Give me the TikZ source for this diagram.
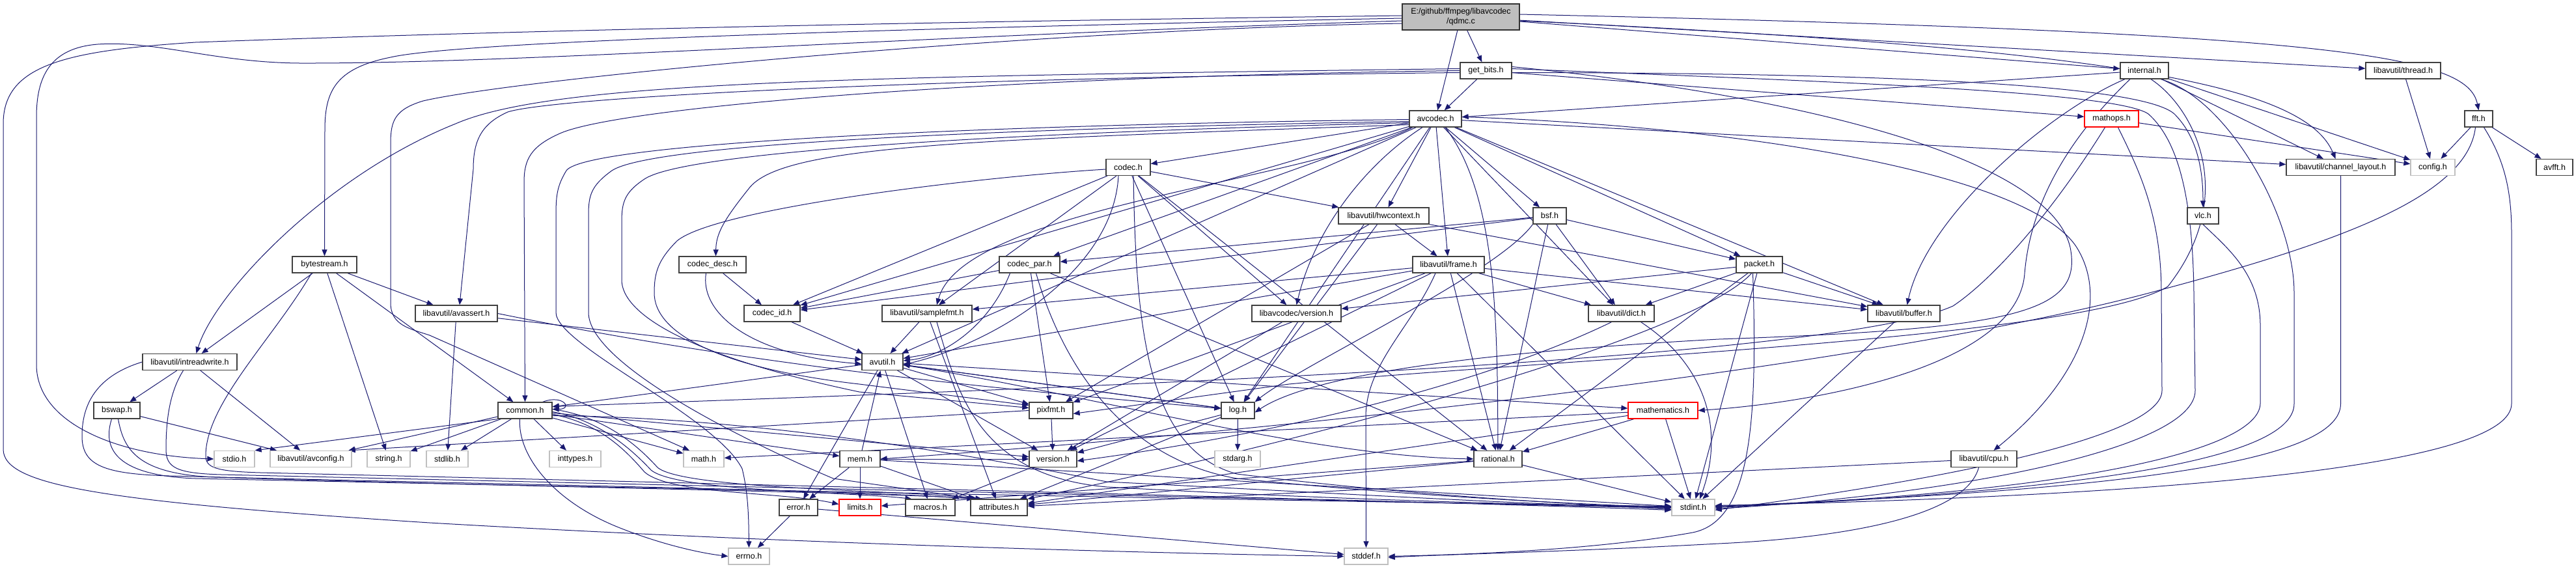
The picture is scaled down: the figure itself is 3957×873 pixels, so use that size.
\documentclass[tikz,border=0pt]{standalone}
\usepackage{fontspec}
\setmainfont{Liberation Sans}
\usetikzlibrary{arrows.meta}
\definecolor{edgec}{HTML}{191970}
\definecolor{nbord}{HTML}{404040}
\definecolor{gbord}{HTML}{BFBFBF}
\definecolor{qfill}{HTML}{BFBFBF}
\pgfdeclarelayer{bg}
\pgfdeclarelayer{edges}
\pgfsetlayers{bg,edges,main}
\newcommand\fs{\fontsize{12.5}{14.5}\selectfont}
\newcommand\nd[6]{\node[#5,minimum width=#4pt] (#1) at (#2,#3) {#6};}
\tikzset{
 nb/.style={draw=nbord, fill=white, line width=1.3pt, minimum height=25pt, inner sep=0pt, font=\fs},
 ng/.style={nb, draw=gbord},
 nr/.style={nb, draw=red},
 nq/.style={nb, draw=black!80, fill=qfill, minimum height=40pt, align=center},
 e/.style={draw=edgec, line width=1pt, -{Triangle[length=10pt,width=8pt]}},
}
\begin{document}
\begin{tikzpicture}[x=1pt,y=-1pt]
\begin{pgfonlayer}{bg}
\fill[white] (0,0) rectangle (3957,873);
\end{pgfonlayer}
\useasboundingbox (0,0) rectangle (3957,873);
% nodes
\nd{Q}{2244}{26}{180}{nq}{E:/github/ffmpeg/libavcodec\\/qdmc.c}
\nd{GET}{2282.5}{108.5}{79}{nb}{get\_bits.h}
\nd{INT}{3294}{108.5}{74}{nb}{internal.h}
\nd{THR}{3691.5}{108.5}{115}{nb}{libavutil/thread.h}
\nd{AVC}{2205}{182.5}{80}{nb}{avcodec.h}
\nd{MOP}{3243.5}{182.5}{83}{nr}{mathops.h}
\nd{FFT}{3807.5}{182.5}{43}{nb}{fft.h}
\nd{COD}{1733}{257}{68}{nb}{codec.h}
\nd{CHL}{3595.5}{257}{167}{nb}{libavutil/channel\_layout.h}
\nd{CFG}{3737}{257}{68}{ng}{config.h}
\nd{AFT}{3924}{257}{56}{nb}{avfft.h}
\nd{HW}{2125.5}{331.5}{139}{nb}{libavutil/hwcontext.h}
\nd{BSF}{2380.5}{331.5}{51}{nb}{bsf.h}
\nd{VLC}{3384}{331.5}{48}{nb}{vlc.h}
\nd{BST}{498.5}{406.5}{99}{nb}{bytestream.h}
\nd{CDS}{1094.5}{406.5}{103}{nb}{codec\_desc.h}
\nd{CPR}{1581.5}{406.5}{93}{nb}{codec\_par.h}
\nd{FRM}{2225}{406.5}{110}{nb}{libavutil/frame.h}
\nd{PKT}{2702.5}{406.5}{71}{nb}{packet.h}
\nd{AST}{701}{481.5}{126}{nb}{libavutil/avassert.h}
\nd{CID}{1186}{481.5}{86}{nb}{codec\_id.h}
\nd{SFM}{1424}{481.5}{138}{nb}{libavutil/samplefmt.h}
\nd{LCV}{1991.5}{481.5}{137}{nb}{libavcodec/version.h}
\nd{DCT}{2490.5}{481.5}{101}{nb}{libavutil/dict.h}
\nd{BUF}{2924.5}{481.5}{111}{nb}{libavutil/buffer.h}
\nd{IRW}{291.5}{556}{145}{nb}{libavutil/intreadwrite.h}
\nd{AVU}{1355.5}{556}{63}{nb}{avutil.h}
\nd{BSW}{179.5}{630.5}{71}{nb}{bswap.h}
\nd{CMN}{806.5}{630.5}{83}{nb}{common.h}
\nd{PIX}{1614.5}{630.5}{67}{nb}{pixfmt.h}
\nd{LOG}{1901.5}{630.5}{51}{nb}{log.h}
\nd{MTH}{2554.5}{630.5}{107}{nr}{mathematics.h}
\nd{STDIO}{360}{705}{62}{ng}{stdio.h}
\nd{AVCFG}{477.5}{705}{125}{ng}{libavutil/avconfig.h}
\nd{STR}{597}{705}{66}{ng}{string.h}
\nd{STDLIB}{687}{705}{64}{ng}{stdlib.h}
\nd{INTT}{883.5}{705}{79}{ng}{inttypes.h}
\nd{MATH}{1081}{705}{62}{ng}{math.h}
\nd{MEM}{1321}{705}{62}{nb}{mem.h}
\nd{VER}{1617.5}{705}{73}{nb}{version.h}
\nd{STDARG}{1901}{705}{70}{ng}{stdarg.h}
\nd{RAT}{2301}{705}{74}{nb}{rational.h}
\nd{CPU}{3047.5}{705}{101}{nb}{libavutil/cpu.h}
\nd{ERR}{1226.5}{779.5}{59}{nb}{error.h}
\nd{LIM}{1321}{779.5}{64}{nr}{limits.h}
\nd{MAC}{1429}{779.5}{76}{nb}{macros.h}
\nd{ATT}{1534.5}{779.5}{87}{nb}{attributes.h}
\nd{SINT}{2601}{779.5}{66}{ng}{stdint.h}
\nd{ERRNO}{1150.5}{854.5}{63}{ng}{errno.h}
\nd{SDEF}{2098.5}{854.5}{67}{ng}{stddef.h}
% edges
\begin{pgfonlayer}{edges}
% qdmc.c
\draw[e] (Q) -- (GET);
\draw[e] (Q) -- (AVC);
\draw[e] (Q) -- (INT);
\draw[e] (Q) -- (THR);
\draw[e] ([yshift=4pt]Q.east) .. controls (3600,50) and (3790,85) .. (FFT.north);
\draw[e] ([yshift=-6pt]Q.east) .. controls (3250,75) and (3540,130) .. ([xshift=-8pt]CHL.north);
\draw[e] ([yshift=-2pt]Q.west) .. controls (1300,45) and (700,65) .. (600,88) .. controls (515,105) and (499,140) .. (499,200) -- (BST.north);
\draw[e] ([yshift=-6pt]Q.west) .. controls (1400,55) and (800,98) .. (460,97) .. controls (330,96) and (240,62) .. (150,68) .. controls (75,74) and (56,120) .. (56,180) -- (56,560) .. controls (56,650) and (180,700) .. (STDIO.west);
\draw[e] ([yshift=2pt]Q.west) .. controls (1300,35) and (700,50) .. (300,65) .. controls (100,78) and (5,100) .. (5,190) -- (5,690) .. controls (5,745) and (150,770) .. (660,803) .. controls (1300,840) and (1900,852) .. (SDEF.west);
\draw[e] ([yshift=-10pt]Q.west) .. controls (1600,45) and (800,120) .. (650,155) .. controls (607,168) and (600,185) .. (600,220) -- (600,465) .. controls (600,500) and (630,505) .. (660,515) -- ([xshift=-22pt]MATH.north);
% get_bits.h
\draw[e] (GET) -- (AVC);
\draw[e] (GET.west) .. controls (1500,118) and (950,165) .. (860,205) .. controls (815,225) and (805,245) .. (805,280) -- (CMN.north);
\draw[e] ([yshift=-3pt]GET.west) .. controls (1400,120) and (850,150) .. (780,172) .. controls (740,190) and (727,215) .. (727,260) -- ([xshift=5pt]AST.north);
\draw[e] ([yshift=3pt]GET.west) .. controls (1300,118) and (850,125) .. (700,190) .. controls (500,270) and (330,450) .. ([xshift=10pt]IRW.north);
\draw[e] (GET) -- (MOP);
\draw[e] ([yshift=-3pt]GET.east) .. controls (2900,112) and (3290,130) .. (3340,175) .. controls (3375,210) and (3384,260) .. (VLC.north);
\draw[e] ([yshift=3pt]GET.east) .. controls (2800,125) and (3250,140) .. (3300,175) .. controls (3345,215) and (3368,300) .. (3370,450) -- (3372,600) .. controls (3372,690) and (3000,760) .. ([yshift=-2pt]SINT.east);
\draw[e] ([yshift=6pt]GET.east) .. controls (2800,150) and (3150,250) .. (3180,380) .. controls (3200,480) and (3100,505) .. (2640,521) .. controls (2200,545) and (2000,585) .. ([yshift=-3pt]LOG.east);
% internal.h
\draw[e] (INT) -- (AVC);
\draw[e] (INT) -- (CFG);
\draw[e] (INT) -- (CHL);
\draw[e] ([xshift=-30pt]INT.south) .. controls (3150,170) and (2960,330) .. ([xshift=5pt]BUF.north);
\draw[e] ([xshift=-22pt]INT.south) .. controls (3190,200) and (3120,300) .. (3110,420) .. controls (3100,560) and (2800,618) .. (MTH.east);
\draw[e] ([xshift=10pt]INT.south) .. controls (3370,165) and (3440,300) .. (3330,440) .. controls (3200,520) and (2400,550) .. (1980,590) -- ([yshift=-5pt]PIX.east);
\draw[e] ([xshift=25pt]INT.south) .. controls (3420,150) and (3524,330) .. (3524,450) -- (3524,620) .. controls (3524,700) and (3250,752) .. (SINT.east);
% thread, fft, mathops, vlc, channel_layout
\draw[e] (THR) -- (CFG);
\draw[e] (FFT) -- (CFG);
\draw[e] (FFT) -- (AFT);
\draw[e] ([xshift=-5pt]FFT.south) .. controls (3790,300) and (3600,370) .. (3320,445) .. controls (2900,560) and (2000,660) .. (MEM.east);
\draw[e] ([xshift=8pt]FFT.south) .. controls (3850,250) and (3858,300) .. (3858,360) -- (3858,620) .. controls (3858,710) and (3400,760) .. ([yshift=3pt]SINT.east);
\draw[e] (MOP) -- (CFG);
\draw[e] ([xshift=-10pt]MOP.south) .. controls (3150,330) and (3060,430) .. (3000,470) .. controls (2800,560) and (1500,600) .. ([yshift=6pt]CMN.east);
\draw[e] ([xshift=10pt]MOP.south) .. controls (3285,260) and (3320,330) .. (3320,450) -- (3321,600) .. controls (3321,670) and (3000,735) .. ([yshift=-4pt]SINT.east);
\draw[e] (VLC.south) .. controls (3420,380) and (3472,420) .. (3472,500) -- (3472,620) .. controls (3470,690) and (3200,756) .. ([yshift=1pt]SINT.east);
\draw[e] (CHL.south) -- (3595.5,620) .. controls (3595.5,705) and (3300,752) .. ([yshift=2pt]SINT.east);
% avcodec.h
\draw[e] (AVC) -- (COD);
\draw[e] (AVC) -- (HW);
\draw[e] (AVC) -- (FRM);
\draw[e] (AVC) -- (BSF);
\draw[e] (AVC) -- (PKT);
\draw[e] (AVC) -- (DCT);
\draw[e] (AVC) -- (BUF);
\draw[e] (AVC) -- (CHL);
\draw[e] (AVC) -- (CPR);
\draw[e] (AVC) -- (CID);
\draw[e] (AVC) -- (AVU);
\draw[e] (AVC) -- (LOG);
\draw[e] ([xshift=15pt]AVC.south) .. controls (2300,300) and (2300,500) .. (RAT.north);
\draw[e] ([xshift=-35pt]AVC.south) .. controls (2000,280) and (1480,320) .. ([xshift=15pt]SFM.north);
\draw[e] ([xshift=-20pt]AVC.south) .. controls (2100,250) and (2020,350) .. (LCV.north);
\draw[e] ([yshift=-9pt]AVC.west) .. controls (1500,215) and (1200,222) .. (1150,290) .. controls (1110,340) and (1100,360) .. ([xshift=5pt]CDS.north);
\draw[e] ([yshift=-1pt]AVC.west) .. controls (1500,192) and (900,220) .. (870,262) .. controls (856,285) and (854,300) .. (854,330) -- (854,480) .. controls (854,530) and (1100,640) .. (1140,720) .. controls (1150,760) and (1150,800) .. (ERRNO.north);
\draw[e] ([yshift=-4pt]AVC.west) .. controls (1500,198) and (1000,222) .. (940,262) .. controls (908,285) and (904,300) .. (904,330) -- (904,480) .. controls (904,560) and (1150,680) .. (1280,735) -- ([xshift=10pt]ATT.north west);
\draw[e] ([yshift=-6pt]AVC.west) .. controls (1500,205) and (1050,235) .. (990,275) .. controls (960,295) and (955,310) .. (955,340) -- (955,430) .. controls (955,480) and (1050,545) .. (1320,602) -- ([yshift=4pt]PIX.west);
\draw[e] ([yshift=3pt]AVC.east) .. controls (2700,195) and (3120,270) .. (3190,380) .. controls (3240,460) and (3200,580) .. ([xshift=15pt]CPU.north);
% codec.h
\draw[e] (COD) -- (HW);
\draw[e] (COD) -- (LOG);
\draw[e] (COD) -- (RAT);
\draw[e] (COD) -- (SFM);
\draw[e] (COD) -- (CID);
\draw[e] (COD) -- (LCV);
\draw[e] ([xshift=-15pt]COD.south) .. controls (1710,420) and (1520,530) .. ([yshift=-4pt]AVU.east);
\draw[e] ([yshift=-3pt]COD.west) .. controls (1500,272) and (1100,320) .. (1040,370) .. controls (1010,400) and (1005,420) .. (1005,450) .. controls (1005,510) and (1100,565) .. (1320,590) -- ([yshift=8pt]PIX.west);
\draw[e] ([xshift=8pt]COD.south) .. controls (1745,500) and (1760,690) .. (1900,728) .. controls (2200,765) and (2450,775) .. ([yshift=-3pt]SINT.west);
% codec_desc.h, codec_par.h, codec_id.h
\draw[e] ([xshift=-10pt]CDS.south) .. controls (1075,480) and (1150,545) .. ([yshift=-3pt]AVU.west);
\draw[e] (CDS) -- (CID);
\draw[e] ([xshift=-30pt]CPR.south) .. controls (1520,500) and (1450,548) .. ([yshift=2pt]AVU.east);
\draw[e] (CPR) -- (RAT);
\draw[e] (CPR) -- (PIX);
\draw[e] (CPR) -- (CID);
\draw[e] ([xshift=10pt]CPR.south) .. controls (1620,520) and (1700,700) .. (1900,735) .. controls (2200,765) and (2450,775) .. (SINT.west);
\draw[e] (CID) -- (AVU);
% bsf.h
\draw[e] (BSF) -- (DCT);
\draw[e] (BSF.south west) .. controls (2300,420) and (2000,560) .. (LOG.north east);
\draw[e] (BSF) -- (RAT);
\draw[e] (BSF) -- (CID);
\draw[e] (BSF) -- (CPR);
\draw[e] (BSF) -- (PKT);
% hwcontext.h
\draw[e] (HW) -- (BUF);
\draw[e] (HW) -- (FRM);
\draw[e] (HW) -- (LOG);
\draw[e] (HW) -- (PIX);
% frame.h
\draw[e] ([xshift=-20pt]FRM.south) .. controls (2170,500) and (2098,560) .. (2098,640) -- (SDEF.north);
\draw[e] (FRM) -- (SINT);
\draw[e] (FRM) -- (AVU);
\draw[e] (FRM) -- (BUF);
\draw[e] (FRM) -- (DCT);
\draw[e] (FRM) -- (RAT);
\draw[e] (FRM) -- (SFM);
\draw[e] (FRM) -- (PIX);
\draw[e] (FRM) -- (VER);
% packet.h
\draw[e] ([xshift=-10pt]PKT.south) .. controls (2700,650) and (2690,800) .. (2600,818) .. controls (2450,845) and (2250,852) .. (SDEF.east);
\draw[e] (PKT) -- (SINT);
\draw[e] (PKT) .. controls (2600,520) and (2000,680) .. (ATT.north east);
\draw[e] (PKT) -- (BUF);
\draw[e] (PKT) -- (DCT);
\draw[e] (PKT) -- (RAT);
\draw[e] (PKT) -- (LCV);
% bytestream.h
\draw[e] (BST) -- (STR);
\draw[e] (BST) -- (AST);
\draw[e] (BST) -- (CMN);
\draw[e] (BST) -- (IRW);
\draw[e] ([xshift=-20pt]BST.south) .. controls (420,520) and (316,620) .. (316,700) .. controls (316,718) and (330,724) .. (400,726) .. controls (1000,740) and (2200,770) .. ([yshift=-4pt]SINT.west);
% avassert.h
\draw[e] (AST) -- (STDLIB);
\draw[e] (AST) -- (AVU);
\draw[e] (AST.east) .. controls (1150,560) and (1500,595) .. ([yshift=3pt]LOG.west);
% samplefmt.h, libavcodec/version.h, dict.h, buffer.h
\draw[e] (SFM) -- (AVU);
\draw[e] (SFM) -- (ATT);
\draw[e] ([xshift=15pt]SFM.south) .. controls (1470,600) and (1500,730) .. (1700,748) .. controls (2100,770) and (2400,776) .. ([yshift=1pt]SINT.west);
\draw[e] (LCV) -- (VER);
\draw[e] ([xshift=30pt]DCT.south) .. controls (2620,560) and (2650,660) .. ([xshift=10pt]SINT.north);
\draw[e] ([xshift=-15pt]DCT.south) .. controls (2300,580) and (2000,662) .. ([yshift=-3pt]VER.east);
\draw[e] (BUF) -- (SINT);
% intreadwrite.h, bswap.h
\draw[e] (IRW) -- (AVCFG);
\draw[e] (IRW) -- (BSW);
\draw[e] (IRW.west) .. controls (140,580) and (126,630) .. (126,670) .. controls (126,715) and (160,728) .. (260,731) .. controls (800,745) and (1300,752) .. ([xshift=5pt]ATT.north west);
\draw[e] ([xshift=-10pt]IRW.south) .. controls (262,600) and (255,640) .. (255,690) .. controls (255,718) and (270,727) .. (340,729) .. controls (900,742) and (2200,772) .. ([yshift=-1pt]SINT.west);
\draw[e] (BSW) -- (AVCFG);
\draw[e] ([xshift=-8pt]BSW.south) .. controls (160,680) and (165,730) .. (300,735) .. controls (900,748) and (2200,774) .. ([yshift=2pt]SINT.west);
\draw[e] ([xshift=2pt]BSW.south) .. controls (190,690) and (210,728) .. (330,733) .. controls (800,748) and (1350,756) .. ([xshift=12pt]ATT.north west);
% avutil.h
\draw[e] (AVU) -- (CMN);
\draw[e] (AVU) -- (ERR);
\draw[e] (AVU) .. controls (1650,600) and (2000,700) .. (RAT.west);
\draw[e] (AVU) -- (VER);
\draw[e] (AVU) -- (MAC);
\draw[e] (AVU) -- (MTH);
\draw[e] (AVU) -- (LOG);
\draw[e] (AVU) -- (PIX);
% common.h
\draw[e] (CMN.south west) -- (STDIO.north east);
\draw[e] (CMN) -- (AVCFG);
\draw[e] (CMN) -- (STR);
\draw[e] (CMN) -- (STDLIB);
\draw[e] (CMN) -- (INTT);
\draw[e] (CMN) -- (MATH);
\draw[e] (CMN) -- (MEM);
\draw[e] (CMN) -- (VER);
\draw[e] ([xshift=-8pt]CMN.south) .. controls (795,700) and (850,770) .. (950,810) .. controls (1020,838) and (1080,850) .. (ERRNO.west);
\draw[e] ([yshift=-6pt]CMN.east) .. controls (920,650) and (960,690) .. (990,725) .. controls (1030,760) and (1200,755) .. ([yshift=5pt]LIM.west);
\draw[e] ([yshift=-2pt]CMN.east) .. controls (920,645) and (970,690) .. (1000,722) .. controls (1040,755) and (1300,755) .. ([xshift=10pt]MAC.north west);
\draw[e] ([yshift=2pt]CMN.east) .. controls (930,640) and (980,685) .. (1010,718) .. controls (1050,752) and (1380,752) .. ([xshift=18pt]ATT.north west);
\draw[e] ([yshift=-8pt]CMN.east) .. controls (1100,640) and (1400,680) .. (1700,740) .. controls (2100,760) and (2400,778) .. (SINT.west);
\draw[e] ([xshift=-15pt]CMN.north east) .. controls +(32,-12) and +(32,0) .. ([yshift=2pt]CMN.east);
% mem.h
\draw[e] (MEM) -- (LIM);
\draw[e] (MEM) -- (SINT);
\draw[e] (MEM) -- (ATT);
\draw[e] (MEM) -- (ERR);
\draw[e] (MEM) -- (AVU);
\draw[e] (MEM) -- (VER);
% log.h, pixfmt.h, version.h, error.h
\draw[e] (LOG) -- (STDARG);
\draw[e] (LOG) -- (AVU);
\draw[e] (LOG) -- (ATT);
\draw[e] (LOG) -- (VER);
\draw[e] (PIX.west) -- ([xshift=-5pt]AVCFG.north east);
\draw[e] (PIX) -- (VER);
\draw[e] (VER) -- (MAC);
\draw[e] (ERR) -- (ERRNO);
\draw[e] (ERR) -- (SDEF);
% rational.h, mathematics.h, cpu.h
\draw[e] (RAT) -- (SINT);
\draw[e] (RAT) -- (LIM);
\draw[e] (RAT) -- (ATT);
\draw[e] (MTH) -- (SINT);
\draw[e] (MTH) -- (MATH);
\draw[e] (MTH) -- (ATT);
\draw[e] (MTH) -- (RAT);
\draw[e] (CPU) -- (ATT);
\draw[e] ([xshift=-8pt]CPU.south) .. controls (3020,790) and (2850,825) .. (2640,835) .. controls (2400,848) and (2200,852) .. ([yshift=-2pt]SDEF.east);
\end{pgfonlayer}
\end{tikzpicture}
\end{document}
